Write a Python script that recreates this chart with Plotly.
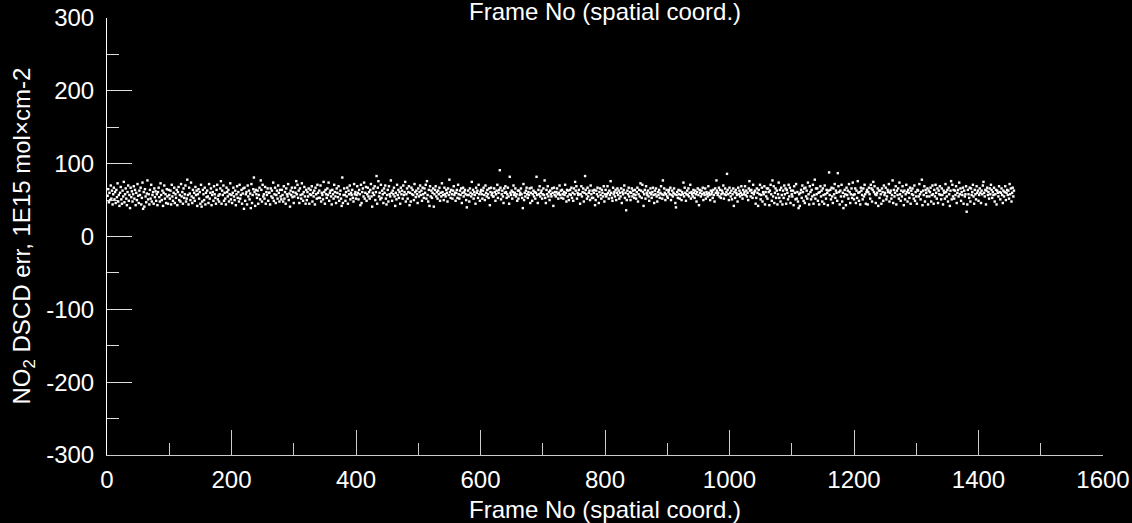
import plotly.graph_objects as go

# NO2 DSCD error per frame (1E15 mol x cm-2), frames 1..1457
dscd_err = [
    56, 65, 47, 60, 50, 70, 52, 63, 44, 58, 67, 51, 61, 46, 64, 54, 73, 48, 57, 42,
    60, 68, 51, 45, 63, 55, 75, 47, 58, 66, 52, 43, 61, 70, 49, 57, 39, 67, 54, 62,
    48, 58, 69, 52, 64, 43, 60, 50, 72, 56, 46, 63, 57, 67, 44, 53, 74, 38, 61, 41,
    65, 55, 47, 59, 77, 51, 58, 44, 64, 52, 71, 48, 57, 61, 45, 66, 54, 62, 49, 58,
    43, 61, 67, 54, 48, 73, 57, 50, 63, 42, 60, 70, 52, 58, 46, 65, 55, 45, 64, 57,
    52, 63, 44, 71, 55, 49, 60, 67, 46, 58, 53, 64, 43, 61, 68, 50, 57, 48, 72, 55,
    61, 45, 66, 53, 58, 70, 48, 52, 78, 57, 44, 67, 59, 50, 74, 55, 46, 64, 53, 60,
    49, 68, 57, 63, 42, 58, 65, 52, 61, 45, 71, 41, 48, 64, 58, 50, 67, 44, 60, 54,
    63, 55, 46, 72, 52, 60, 66, 43, 57, 61, 49, 69, 58, 53, 45, 64, 71, 51, 56, 48,
    58, 66, 76, 45, 63, 57, 70, 49, 60, 52, 44, 67, 61, 55, 64, 48, 58, 73, 51, 57,
    46, 60, 67, 55, 50, 63, 43, 58, 69, 53, 61, 48, 71, 52, 57, 64, 45, 59, 66, 38,
    67, 49, 58, 61, 44, 70, 55, 63, 51, 59, 39, 72, 46, 57, 65, 81, 61, 42, 64, 58,
    53, 63, 45, 57, 67, 51, 77, 64, 48, 71, 55, 58, 52, 68, 45, 61, 57, 66, 49, 60,
    60, 44, 66, 55, 63, 53, 74, 49, 58, 67, 46, 57, 63, 52, 70, 60, 48, 64, 55, 51,
    64, 57, 48, 69, 52, 61, 45, 66, 58, 55, 72, 50, 59, 41, 63, 57, 67, 54, 61, 46,
    55, 67, 60, 76, 58, 71, 53, 63, 46, 66, 57, 52, 73, 58, 49, 61, 68, 55, 45, 64,
    50, 61, 55, 66, 45, 58, 64, 57, 69, 48, 60, 55, 63, 44, 67, 58, 52, 71, 60, 53,
    63, 53, 70, 48, 60, 57, 51, 75, 61, 45, 64, 58, 53, 66, 57, 74, 49, 60, 63, 55,
    44, 64, 58, 52, 71, 61, 55, 46, 66, 60, 54, 69, 49, 58, 63, 52, 42, 81, 46, 57,
    66, 57, 49, 61, 55, 67, 45, 63, 58, 70, 51, 60, 57, 64, 53, 48, 72, 58, 61, 52,
    57, 69, 60, 51, 64, 58, 43, 71, 46, 61, 66, 55, 74, 52, 60, 68, 49, 58, 67, 55,
    61, 52, 64, 72, 55, 41, 60, 66, 57, 69, 50, 61, 83, 45, 67, 76, 55, 60, 51, 71,
    53, 63, 58, 46, 66, 60, 70, 52, 44, 57, 64, 48, 69, 58, 55, 77, 60, 49, 63, 58,
    67, 55, 42, 60, 51, 71, 57, 64, 53, 61, 45, 67, 58, 63, 52, 70, 57, 61, 75, 48,
    58, 66, 52, 61, 69, 43, 60, 48, 67, 58, 64, 57, 50, 72, 61, 54, 63, 58, 46, 66,
    55, 61, 70, 57, 63, 49, 67, 58, 53, 66, 60, 71, 52, 76, 57, 48, 64, 42, 69, 55,
    63, 53, 60, 66, 41, 58, 64, 69, 55, 61, 52, 63, 58, 67, 49, 60, 55, 73, 61, 57,
    50, 67, 58, 55, 64, 60, 48, 66, 57, 78, 61, 53, 64, 58, 52, 63, 69, 57, 60, 49,
    60, 64, 53, 71, 58, 52, 63, 57, 66, 46, 60, 67, 55, 61, 64, 58, 50, 40, 57, 63,
    57, 48, 66, 60, 55, 75, 58, 64, 52, 61, 57, 45, 67, 60, 63, 53, 71, 58, 49, 61,
    64, 58, 52, 63, 67, 57, 50, 70, 60, 55, 64, 58, 53, 66, 43, 61, 67, 57, 60, 55,
    55, 66, 61, 49, 58, 63, 71, 53, 60, 64, 91, 67, 51, 58, 63, 55, 46, 66, 60, 69,
    61, 53, 58, 67, 55, 45, 82, 60, 57, 63, 52, 61, 70, 57, 60, 66, 55, 58, 49, 63,
    52, 63, 57, 60, 66, 58, 53, 39, 72, 50, 60, 55, 63, 67, 58, 53, 61, 57, 66, 46,
    60, 67, 49, 58, 63, 55, 61, 52, 60, 82, 57, 46, 64, 58, 69, 55, 60, 63, 52, 58,
    66, 57, 77, 53, 46, 64, 58, 69, 55, 61, 50, 63, 58, 55, 66, 60, 42, 67, 57, 61,
    55, 61, 66, 58, 52, 60, 70, 57, 63, 53, 64, 58, 52, 61, 57, 71, 60, 48, 64, 55,
    63, 50, 58, 64, 57, 67, 53, 60, 49, 66, 58, 75, 63, 69, 52, 60, 57, 64, 58, 45,
    58, 69, 55, 61, 66, 48, 60, 83, 64, 58, 52, 67, 55, 60, 63, 50, 70, 58, 53, 63,
    53, 60, 64, 43, 50, 63, 58, 67, 55, 46, 61, 66, 57, 52, 64, 60, 55, 69, 48, 58,
    64, 55, 58, 69, 60, 52, 63, 57, 76, 60, 53, 49, 67, 58, 61, 55, 64, 50, 60, 66,
    57, 63, 52, 60, 55, 66, 46, 61, 58, 64, 70, 53, 60, 36, 50, 63, 58, 67, 55, 61,
    50, 60, 66, 55, 63, 58, 53, 64, 57, 52, 61, 67, 48, 58, 64, 55, 73, 63, 53, 71,
    61, 42, 58, 64, 52, 69, 60, 57, 63, 55, 49, 60, 66, 58, 53, 61, 67, 57, 46, 63,
    58, 66, 55, 48, 61, 57, 64, 53, 60, 69, 58, 52, 77, 57, 66, 60, 50, 58, 64, 55,
    53, 61, 64, 58, 67, 50, 57, 63, 55, 60, 66, 58, 46, 40, 57, 61, 53, 64, 58, 52,
    63, 57, 50, 61, 58, 74, 55, 67, 60, 49, 58, 63, 57, 66, 55, 60, 71, 52, 61, 58,
    55, 64, 60, 53, 63, 58, 48, 61, 66, 57, 43, 64, 60, 55, 63, 58, 67, 50, 60, 57,
    66, 52, 61, 58, 55, 69, 60, 57, 50, 63, 58, 61, 53, 64, 57, 48, 66, 60, 77, 63,
    57, 60, 67, 55, 64, 53, 58, 63, 60, 70, 52, 58, 66, 57, 61, 86, 64, 58, 50, 67,
    60, 55, 63, 51, 58, 66, 42, 61, 53, 64, 60, 57, 48, 67, 58, 63, 55, 60, 69, 57,
    52, 64, 58, 61, 69, 57, 63, 55, 60, 50, 66, 76, 63, 55, 64, 60, 53, 71, 58, 61,
    63, 45, 53, 66, 60, 42, 64, 58, 71, 51, 57, 67, 48, 61, 58, 69, 44, 61, 55, 66,
    52, 66, 61, 43, 63, 71, 58, 49, 77, 55, 69, 46, 60, 66, 53, 63, 44, 58, 74, 53,
    64, 48, 67, 57, 44, 63, 53, 70, 58, 66, 45, 64, 60, 51, 71, 55, 67, 46, 63, 58,
    55, 63, 43, 69, 60, 51, 72, 52, 61, 48, 39, 58, 42, 60, 64, 53, 70, 61, 49, 66,
    46, 67, 55, 63, 52, 74, 58, 44, 69, 61, 51, 64, 55, 71, 45, 57, 78, 52, 66, 58,
    66, 49, 60, 44, 61, 69, 55, 63, 48, 66, 57, 45, 70, 58, 52, 64, 60, 43, 63, 88,
    57, 64, 51, 67, 55, 46, 66, 58, 72, 53, 63, 60, 49, 87, 69, 61, 44, 63, 55, 71,
    48, 60, 39, 55, 64, 58, 43, 67, 57, 63, 52, 72, 61, 46, 58, 66, 53, 74, 57, 51,
    58, 66, 46, 63, 53, 76, 60, 49, 61, 44, 67, 63, 57, 51, 66, 55, 71, 58, 45, 61,
    64, 44, 61, 67, 58, 52, 71, 66, 48, 64, 75, 61, 69, 58, 46, 57, 60, 66, 42, 63,
    53, 63, 58, 45, 66, 61, 49, 70, 57, 60, 67, 51, 55, 64, 61, 72, 48, 60, 63, 52,
    57, 77, 46, 64, 55, 60, 69, 44, 63, 57, 66, 52, 74, 58, 49, 63, 55, 69, 61, 43,
    63, 51, 58, 71, 61, 48, 64, 60, 53, 67, 45, 63, 58, 66, 57, 52, 70, 49, 61, 55,
    45, 64, 63, 55, 72, 58, 51, 61, 78, 43, 63, 57, 69, 48, 64, 60, 55, 66, 44, 63,
    55, 61, 67, 48, 57, 70, 58, 45, 64, 55, 71, 60, 52, 66, 46, 63, 58, 69, 57, 51,
    66, 57, 44, 63, 60, 52, 72, 61, 55, 64, 48, 67, 58, 42, 63, 76, 51, 71, 55, 64,
    52, 63, 57, 69, 46, 60, 64, 55, 74, 58, 66, 49, 61, 57, 67, 45, 63, 55, 58, 69,
    34, 44, 64, 58, 53, 67, 48, 66, 57, 61, 71, 55, 45, 64, 58, 51, 69, 60, 63, 49,
    57, 66, 60, 46, 63, 58, 70, 75, 60, 55, 64, 44, 63, 67, 57, 61, 52, 66, 58, 71,
    64, 53, 61, 57, 67, 48, 58, 64, 44, 63, 60, 55, 69, 61, 51, 60, 66, 57, 46, 63,
    55, 61, 69, 50, 60, 64, 57, 63, 52, 72, 58, 66, 48, 60, 67, 55, 63,
]
frames = list(range(1, len(dscd_err) + 1))

# axis ticks (labels written with a plain hyphen as in the reference)
x_tick_vals = [0, 200, 400, 600, 800, 1000, 1200, 1400, 1600]
x_tick_text = ["0", "200", "400", "600", "800", "1000", "1200", "1400", "1600"]
x_minor_vals = [100, 300, 500, 700, 900, 1100, 1300, 1500]
y_tick_vals = [-300, -200, -100, 0, 100, 200, 300]
y_tick_text = ["-300", "-200", "-100", "0", "100", "200", "300"]
y_minor_vals = [-250, -150, -50, 50, 150, 250]

x_title = "Frame No (spatial coord.)"
y_title = "NO<sub>2</sub> DSCD err, 1E15 mol×cm-2"

FONT = "Liberation Sans, Arial, sans-serif"
fs = 24

fig = go.Figure()
fig.add_trace(go.Scatter(
    x=frames, y=dscd_err, mode="markers",
    marker=dict(symbol="square", size=2.4, color="white", line=dict(width=0)),
    hoverinfo="skip",
))

fig.update_layout(
    width=1132, height=523,
    paper_bgcolor="black", plot_bgcolor="black",
    margin=dict(l=107, r=29, t=18, b=68, autoexpand=False),
    showlegend=False,
    font=dict(family=FONT, size=fs, color="white"),
    xaxis=dict(
        range=[0, 1600], tickmode="array", tickvals=x_tick_vals, ticktext=x_tick_text,
        ticks="inside", ticklen=25, tickwidth=1, tickcolor="#cccccc",
        showline=True, linecolor="#cccccc", linewidth=1,
        showgrid=False, zeroline=False, automargin=False,
        minor=dict(tickvals=x_minor_vals, ticks="inside", ticklen=12, tickwidth=1,
                   tickcolor="#cccccc", showgrid=False),
        tickfont=dict(family=FONT, size=fs, color="white"),
        ticklabelstandoff=3,
    ),
    yaxis=dict(
        range=[-300, 300], tickmode="array", tickvals=y_tick_vals, ticktext=y_tick_text,
        ticks="inside", ticklen=25, tickwidth=1, tickcolor="#dddddd",
        showline=True, linecolor="white", linewidth=1,
        showgrid=False, zeroline=False, automargin=False,
        minor=dict(tickvals=y_minor_vals, ticks="inside", ticklen=12, tickwidth=1,
                   tickcolor="#dddddd", showgrid=False),
        tickfont=dict(family=FONT, size=fs, color="white"),
        ticklabelstandoff=7,
    ),
    annotations=[
        dict(text=x_title, xref="paper", yref="paper", x=0.5, y=1,
             xanchor="center", yanchor="middle", yshift=7, showarrow=False,
             font=dict(family=FONT, size=fs, color="white")),
        dict(text=x_title, xref="paper", yref="paper", x=0.5, y=0,
             xanchor="center", yanchor="middle", yshift=-54, showarrow=False,
             font=dict(family=FONT, size=fs, color="white")),
        dict(text=y_title, xref="paper", yref="paper", x=0, y=0.5,
             xanchor="center", yanchor="middle", xshift=-84, textangle=-90,
             showarrow=False, font=dict(family=FONT, size=fs, color="white")),
    ],
)

fig.write_html("out.html")
